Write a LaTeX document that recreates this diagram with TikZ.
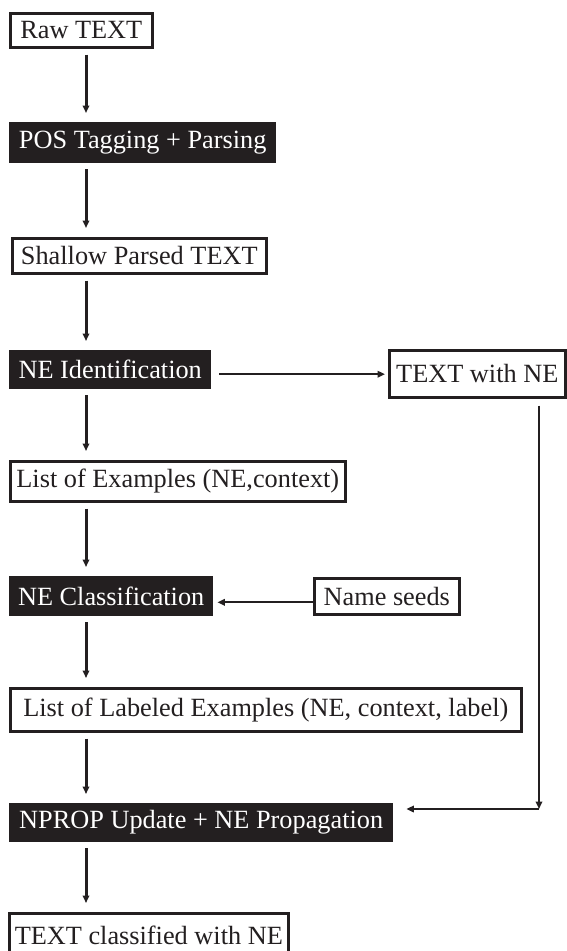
\documentclass[tikz,border=0pt]{standalone}
\usepackage{fontspec}
\setmainfont{Liberation Serif}
\usetikzlibrary{arrows.meta}
\definecolor{ink}{RGB}{35,31,32}
\tikzset{
  base/.style={anchor=north west, inner sep=0pt, align=center,
    font=\fontsize{26.3pt}{30pt}\selectfont, text=ink},
  wbox/.style={base, draw=ink, line width=2.6pt, fill=white},
  bbox/.style={base, fill=ink, text=white},
  tipstyle/.style={-{Triangle[length=7.5pt,width=6.5pt]}},
  varr/.style={tipstyle, draw=ink, line width=3pt, shorten <=6pt, shorten >=9pt},
  harr/.style={tipstyle, draw=ink, line width=2pt},
}
\begin{document}
\begin{tikzpicture}[x=1pt,y=-1pt]
\useasboundingbox (0,0) rectangle (567,951);
% nodes
\node[wbox, minimum width=142pt, minimum height=34pt] (raw) at (9,12) {Raw TEXT};
\node[bbox, minimum width=267pt, minimum height=41pt] (pos) at (9,122) {POS Tagging + Parsing};
\node[wbox, minimum width=254pt, minimum height=35pt] (shallow) at (11,237) {Shallow Parsed TEXT};
\node[bbox, minimum width=202pt, minimum height=39pt] (nei) at (9,350) {NE Identification};
\node[wbox, minimum width=176pt, minimum height=47pt] (twn) at (388,349) {TEXT with NE};
\node[wbox, minimum width=335pt, minimum height=40pt] (loe) at (9,460) {List of Examples (NE,context)};
\node[bbox, minimum width=204pt, minimum height=40pt] (nec) at (9,576) {NE Classification};
\node[wbox, minimum width=145pt, minimum height=36pt] (seeds) at (313,577) {Name seeds};
\node[wbox, minimum width=511pt, minimum height=43pt] (lle) at (9,687) {List of Labeled Examples (NE, context, label)};
\node[bbox, minimum width=384pt, minimum height=39pt] (nprop) at (9,803) {NPROP Update + NE Propagation};
\node[wbox, minimum width=279pt, minimum height=45pt] (tcl) at (8,912) {TEXT classified with NE};
% spine
\coordinate (spine) at (86,0);
\draw[varr] (raw.south -| spine) -- (pos.north -| spine);
\draw[varr] (pos.south -| spine) -- (shallow.north -| spine);
\draw[varr] (shallow.south -| spine) -- (nei.north -| spine);
\draw[varr] (nei.south -| spine) -- (loe.north -| spine);
\draw[varr] (loe.south -| spine) -- (nec.north -| spine);
\draw[varr] (nec.south -| spine) -- (lle.north -| spine);
\draw[varr] (lle.south -| spine) -- (nprop.north -| spine);
\draw[varr] (nprop.south -| spine) -- (tcl.north -| spine);
% side connectors
\draw[harr, shorten <=8pt, shorten >=3pt] ([yshift=-4.5pt]nei.east) -- ([yshift=-4.5pt]nei.east -| twn.west);
\draw[harr, shorten >=4pt] ([yshift=-6pt]seeds.west) -- ([yshift=-6pt]seeds.west -| nec.east);
\coordinate (corner) at (539,809);
\draw[harr, shorten <=7pt] (twn.south -| corner) -- (corner);
\draw[harr, shorten >=13pt] (corner) -- (corner -| nprop.east);
\end{tikzpicture}
\end{document}
